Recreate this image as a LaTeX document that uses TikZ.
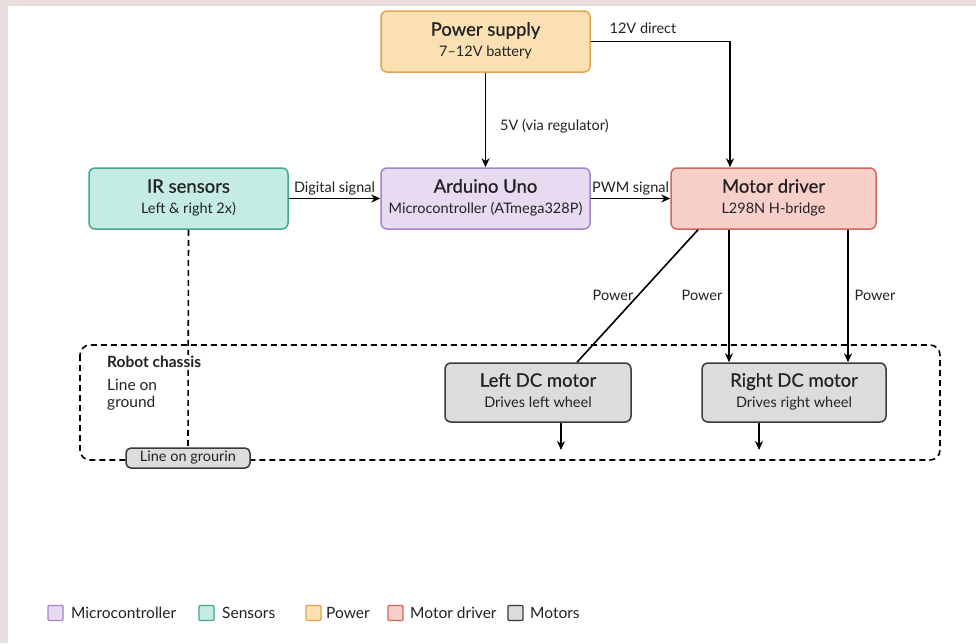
\documentclass[tikz,border=0pt]{standalone}
\usepackage{fontspec}
\setmainfont{Lato}
\newfontfamily\titlef{Lato}[FakeBold=0.6]
\usetikzlibrary{arrows.meta}
\definecolor{bgpink}{HTML}{E9DFDF}
\definecolor{pwfill}{HTML}{FBE0B3}
\definecolor{pwline}{HTML}{E0A64E}
\definecolor{irfill}{HTML}{C4ECE2}
\definecolor{irline}{HTML}{3EA892}
\definecolor{ardfill}{HTML}{E6DBF1}
\definecolor{ardline}{HTML}{A584C8}
\definecolor{mdfill}{HTML}{F9CFCA}
\definecolor{mdline}{HTML}{CF6860}
\definecolor{mofill}{HTML}{DCDCDC}
\definecolor{moline}{HTML}{3A3A3A}
\definecolor{txt}{HTML}{222222}
\newcommand{\twol}[2]{{\titlef\fontsize{18.5}{21}\selectfont #1\strut}\\[2pt]{\fontsize{14.5}{17}\selectfont #2\strut}}
\begin{document}
\begin{tikzpicture}[x=1pt,y=-1pt,
  box/.style={draw, rounded corners=6pt, line width=1.5pt, align=center, text=txt, inner sep=0pt},
  arr/.style={-{Stealth[length=9pt,width=8pt]}, line width=1.6pt, black},
  plain/.style={line width=1.6pt, black},
  lbl/.style={font=\fontsize{14.5}{17}\selectfont, text=txt, inner sep=2pt},
  dsh/.style={line width=1.6pt, black, dash pattern=on 6pt off 4pt},
  leg/.style={draw, line width=1.3pt, minimum width=15pt, minimum height=15pt, inner sep=0pt, rounded corners=1pt},
  legt/.style={font=\fontsize{15.5}{18}\selectfont, text=txt, anchor=west, inner sep=0pt}
]
% background
\fill[bgpink] (0,0) rectangle (976,643);
\fill[white] (8,6) rectangle (976,643);
\useasboundingbox (0,0) rectangle (976,643);

% chassis
\draw[dsh, rounded corners=10pt] (80,345) rectangle (940,460);

% nodes
\node[box, fill=pwfill, draw=pwline, minimum width=209pt, minimum height=61pt] (pw) at (485.5,41.5) {\twol{Power supply}{7--12V battery}};
\node[box, fill=irfill, draw=irline, minimum width=199pt, minimum height=61pt] (ir) at (188.5,198.5) {\twol{IR sensors}{Left \& right 2x)}};
\node[box, fill=ardfill, draw=ardline, minimum width=209pt, minimum height=61pt] (ard) at (485.5,198.5) {\twol{Arduino Uno}{Microcontroller (ATmega328P)}};
\node[box, fill=mdfill, draw=mdline, minimum width=205pt, minimum height=61pt] (md) at (773.5,198.5) {\twol{Motor driver}{L298N H-bridge}};
\node[box, fill=mofill, draw=moline, minimum width=186pt, minimum height=59pt] (lm) at (538,392.5) {\twol{Left DC motor}{Drives left wheel}};
\node[box, fill=mofill, draw=moline, minimum width=184pt, minimum height=59pt] (rm) at (794,392.5) {\twol{Right DC motor}{Drives right wheel}};

% dashed IR line
\node[box, fill=mofill, draw=moline, rounded corners=5pt, minimum width=124pt, minimum height=20pt, font=\fontsize{14.5}{16}\selectfont] (lg) at (188,458) {Line on grourin};
\draw[dsh] (ir.south) -- (lg.north);

% chassis labels
\node[fill=white, inner sep=1pt, anchor=west, text=txt, font=\fontsize{15.5}{18}\bfseries\selectfont] (rc) at (106,362) {Robot chassis};
\node[anchor=north west, align=left, text=txt, inner sep=0pt, font=\fontsize{15.5}{17}\selectfont] (lon) at (107,379) {Line on\\ground};

% connectors
\draw[arr] (pw.south) -- (ard.north);
\node[lbl, anchor=west] (l5v) at (498,126) {5V (via regulator)};
\draw[arr] (pw.east) -| ([xshift=-43.5pt]md.north);
\node[lbl] (l12) at (643,28) {12V direct};
\draw[arr] (ir.east) -- (ard.west) node[lbl, midway, above, yshift=1pt] (ldig) {Digital signal};
\draw[arr] (ard.east) -- (md.west) node[lbl, midway, above, yshift=1pt] (lpwm) {PWM signal};

\draw[plain] ([xshift=-75.5pt]md.south) -- ([xshift=39pt]lm.north);
\node[lbl] (lp1) at (613,295) {Power};
\draw[arr] ([xshift=-44.5pt]md.south) -- ([xshift=-65pt]rm.north);
\node[lbl] (lp2) at (702,295) {Power};
\draw[arr] ([xshift=74.5pt]md.south) -- ([xshift=54pt]rm.north);
\node[lbl] (lp3) at (875,295) {Power};

\coordinate (lwo) at (561,450);
\coordinate (rwo) at (759,450);
\draw[arr] (lm.south -| lwo) -- (lwo);
\draw[arr] (rm.south -| rwo) -- (rwo);

% legend
\node[leg, fill=ardfill, draw=ardline] (g1) at (55.5,613) {};
\node[legt] (t1) at (71,613) {Microcontroller};
\node[leg, fill=irfill, draw=irline] (g2) at (206.5,613) {};
\node[legt] (t2) at (222,613) {Sensors};
\node[leg, fill=pwfill, draw=pwline] (g3) at (313.5,613) {};
\node[legt] (t3) at (326,613) {Power};
\node[leg, fill=mdfill, draw=mdline] (g4) at (395.5,613) {};
\node[legt] (t4) at (410,613) {Motor driver};
\node[leg, fill=mofill, draw=moline] (g5) at (515.5,613) {};
\node[legt] (t5) at (530,613) {Motors};
\end{tikzpicture}
\end{document}
